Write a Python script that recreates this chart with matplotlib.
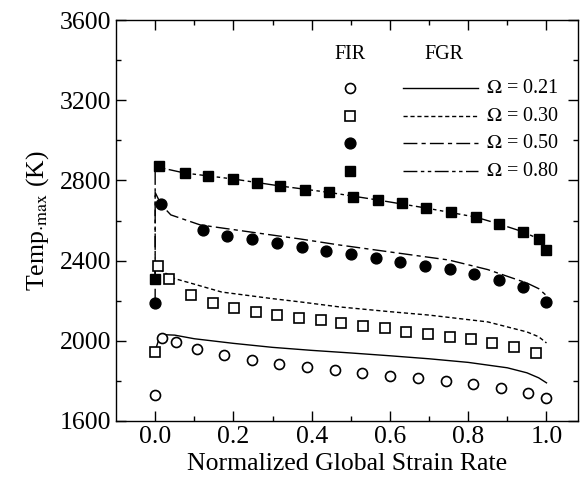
import matplotlib
matplotlib.use("Agg")
import matplotlib.pyplot as plt

plt.rcParams["font.family"] = ["Liberation Serif", "DejaVu Serif"]
plt.rcParams["mathtext.fontset"] = "stix"

# FIR (symbols)
x_021 = [0.0, 0.018, 0.054, 0.107, 0.176, 0.247, 0.316, 0.388, 0.459, 0.528, 0.6, 0.671, 0.742, 0.811, 0.883, 0.954, 1.0]
y_021 = [1730, 2014, 1994, 1959, 1929, 1904, 1884, 1869, 1854, 1839, 1824, 1814, 1799, 1784, 1765, 1740, 1712]

x_030 = [0.0, 0.008, 0.036, 0.092, 0.148, 0.202, 0.258, 0.312, 0.367, 0.423, 0.476, 0.531, 0.588, 0.642, 0.697, 0.753, 0.808, 0.862, 0.918, 0.974]
y_030 = [1944, 2373, 2308, 2228, 2189, 2164, 2144, 2129, 2114, 2104, 2089, 2074, 2064, 2042, 2034, 2019, 2009, 1989, 1969, 1939]

x_050 = [0.0, 0.015, 0.122, 0.184, 0.247, 0.311, 0.374, 0.436, 0.5, 0.564, 0.625, 0.689, 0.753, 0.814, 0.878, 0.941, 1.0]
y_050 = [2189, 2682, 2553, 2523, 2508, 2488, 2468, 2450, 2433, 2413, 2393, 2373, 2358, 2333, 2303, 2268, 2194]

x_080 = [0.0, 0.01, 0.075, 0.135, 0.2, 0.26, 0.32, 0.384, 0.445, 0.505, 0.57, 0.632, 0.693, 0.757, 0.819, 0.878, 0.941, 0.98, 1.0]
y_080 = [2310, 2870, 2837, 2822, 2807, 2787, 2772, 2752, 2740, 2717, 2702, 2687, 2662, 2642, 2617, 2583, 2543, 2508, 2453]

# FGR (lines)
lx_021 = [0.0, 0.01, 0.025, 0.05, 0.1, 0.2, 0.3, 0.4, 0.5, 0.6, 0.7, 0.8, 0.9, 0.95, 0.98, 1.0]
ly_021 = [1950, 2010, 2030, 2028, 2010, 1987, 1967, 1952, 1939, 1925, 1910, 1892, 1865, 1840, 1815, 1790]

lx_030 = [0.0, 0.0, 0.02, 0.05, 0.09, 0.17, 0.3, 0.37, 0.47, 0.6, 0.7, 0.85, 0.95, 0.98, 1.0]
ly_030 = [2300, 2375, 2345, 2310, 2288, 2243, 2210, 2194, 2169, 2145, 2128, 2094, 2044, 2020, 1989]

lx_050 = [0.0, 0.0, 0.005, 0.015, 0.04, 0.115, 0.26, 0.37, 0.47, 0.6, 0.75, 0.85, 0.95, 0.98, 1.0]
ly_050 = [2190, 2740, 2720, 2680, 2628, 2578, 2538, 2508, 2478, 2443, 2403, 2355, 2288, 2260, 2225]

lx_080 = [0.0, 0.0, 0.01, 0.075, 0.2, 0.32, 0.445, 0.57, 0.693, 0.819, 0.878, 0.941, 0.98, 1.0]
ly_080 = [2310, 2865, 2865, 2837, 2807, 2772, 2740, 2702, 2662, 2617, 2583, 2543, 2508, 2453]

omegas = ["0.21", "0.30", "0.50", "0.80"]

fig = plt.figure(figsize=(5.86, 4.9), dpi=100)
ax = fig.add_axes([0.198, 0.141, 0.788, 0.818])

ls_030 = (0, (3, 2))
ls_050 = (0, (10, 3, 3, 3))
ls_080 = (0, (10, 2.5, 2.5, 2.5, 2.5, 2.5))

ax.plot(lx_021, ly_021, "k-", lw=1)
ax.plot(lx_030, ly_030, color="k", ls=ls_030, lw=1)
ax.plot(lx_050, ly_050, color="k", ls=ls_050, lw=1)
ax.plot(lx_080, ly_080, color="k", ls=ls_080, lw=1)

ms_open = 7.2
ms_fill = 7.8
ax.plot(x_021, y_021, "o", mfc="white", mec="k", mew=1.2, ms=ms_open, ls="none")
ax.plot(x_030, y_030, "s", mfc="white", mec="k", mew=1.2, ms=ms_open, ls="none")
ax.plot(x_050, y_050, "o", mfc="k", mec="k", ms=ms_fill, ls="none")
ax.plot(x_080, y_080, "s", mfc="k", mec="k", ms=ms_fill, ls="none")

ax.set_xlim(-0.1, 1.08)
ax.set_ylim(1600, 3600)
ax.set_xticks([0.0, 0.2, 0.4, 0.6, 0.8, 1.0])
ax.set_xticks([0.1, 0.3, 0.5, 0.7, 0.9], minor=True)
ax.set_yticks([1600, 2000, 2400, 2800, 3200, 3600])
ax.set_yticks([1800, 2200, 2600, 3000, 3400], minor=True)
ax.xaxis.set_major_formatter(plt.FormatStrFormatter("%.1f"))
ax.tick_params(which="both", direction="in", top=True, right=True, labelsize=18.5, width=1)
ax.tick_params(which="major", length=7)
ax.tick_params(which="minor", length=3.5)
for s in ax.spines.values():
    s.set_linewidth(1)

ax.set_xlabel("Normalized Global Strain Rate", fontsize=18.5, labelpad=4)
ax.set_ylabel(r"Temp$_{\cdot\mathrm{max}}$ (K)", fontsize=18.5, labelpad=6)

# hand-made legend
ax.text(0.498, 3430, "FIR", fontsize=14.5, ha="center", va="center")
ax.text(0.737, 3430, "FGR", fontsize=14.5, ha="center", va="center")
rows = [3260, 3120, 2985, 2845]
ax.plot([0.498], [rows[0]], "o", mfc="white", mec="k", mew=1.2, ms=ms_open)
ax.plot([0.498], [rows[1]], "s", mfc="white", mec="k", mew=1.2, ms=ms_open)
ax.plot([0.498], [rows[2]], "o", mfc="k", mec="k", ms=ms_fill)
ax.plot([0.498], [rows[3]], "s", mfc="k", mec="k", ms=ms_fill)
styles = ["-", ls_030, ls_050, ls_080]
for y, st, om in zip(rows, styles, omegas):
    ax.plot([0.633, 0.826], [y, y], color="k", ls=st, lw=1)
    ax.text(0.845, y, r"$\Omega$ = " + om, fontsize=14.5, ha="left", va="center")

fig.savefig("out.png", dpi=100)
